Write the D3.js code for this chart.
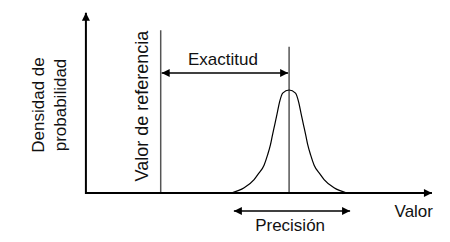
<!DOCTYPE html>
<html>
<head>
<meta charset="utf-8">
<script src="https://cdn.jsdelivr.net/npm/d3@7"></script>
<style>
  body { margin: 0; background: #fff; }
  text { font-family: "Liberation Sans", Arial, sans-serif; font-size: 17px; fill: #111; }
</style>
</head>
<body>
<svg width="450" height="242"></svg>
<script>
// valores (unidades arbitrarias)
const valorReferencia = 2;
const valorMedio = 6;
const ejeX = [-0.33, 10.45];
const ejeY = [0, 1.75];
const alturaReferencia = 1.58;
const alturaMedia = 1.42;
const rangoPrecision = [4.28, 7.9];

// puntos de la curva de densidad
const curvaX = [4.2, 4.6, 4.91, 5.03, 5.22, 5.33, 5.42, 5.48, 5.55, 5.62, 5.7, 5.8, 6,
                6.2, 6.3, 6.38, 6.45, 6.52, 6.58, 6.67, 6.78, 6.97, 7.09, 7.4, 7.8];
const curvaY = [0, 0.05, 0.13, 0.18, 0.27, 0.37, 0.47, 0.56, 0.66, 0.76, 0.88, 0.97, 1,
                0.97, 0.88, 0.76, 0.66, 0.56, 0.47, 0.37, 0.27, 0.18, 0.13, 0.05, 0];

const etiquetas = {
  ejeY: ["Densidad de", "probabilidad"],
  ejeX: "Valor",
  referencia: "Valor de referencia",
  exactitud: "Exactitud",
  precision: "Precisión"
};

const svg = d3.select("svg");

const x = d3.scaleLinear().domain([0, 10]).range([96.5, 417.5]);
const y = d3.scaleLinear().domain([0, 1]).range([193, 90]);

// flechas
const defs = svg.append("defs");
defs.append("marker")
  .attr("id", "punta")
  .attr("viewBox", "0 0 10 10")
  .attr("refX", 10).attr("refY", 5)
  .attr("markerWidth", 10).attr("markerHeight", 8)
  .attr("markerUnits", "userSpaceOnUse")
  .attr("orient", "auto-start-reverse")
  .append("path")
  .attr("d", "M0,0 L10,5 L0,10 Z")
  .attr("fill", "#000");

// líneas verticales (referencia y media)
svg.append("line")
  .attr("x1", x(valorReferencia)).attr("x2", x(valorReferencia))
  .attr("y1", y(0)).attr("y2", y(alturaReferencia))
  .attr("stroke", "#555").attr("stroke-width", 1.5);

svg.append("line")
  .attr("x1", x(valorMedio)).attr("x2", x(valorMedio))
  .attr("y1", y(0)).attr("y2", y(alturaMedia))
  .attr("stroke", "#555").attr("stroke-width", 1.5);

// curva
const linea = d3.line()
  .x((d, i) => x(curvaX[i]))
  .y(d => y(d))
  .curve(d3.curveMonotoneX);

svg.append("path")
  .datum(curvaY)
  .attr("d", linea)
  .attr("fill", "none")
  .attr("stroke", "#000")
  .attr("stroke-width", 1.2);

// ejes
svg.append("line")
  .attr("x1", x(ejeX[0])).attr("x2", x(ejeX[1]))
  .attr("y1", y(0)).attr("y2", y(0))
  .attr("stroke", "#000").attr("stroke-width", 2)
  .attr("marker-end", "url(#punta)");

svg.append("line")
  .attr("x1", x(ejeX[0])).attr("x2", x(ejeX[0]))
  .attr("y1", y(0) + 1).attr("y2", y(ejeY[1]))
  .attr("stroke", "#000").attr("stroke-width", 2)
  .attr("marker-end", "url(#punta)");

// exactitud
const yExact = 73;
svg.append("line")
  .attr("x1", x(valorReferencia) + 1).attr("x2", x(valorMedio) - 1)
  .attr("y1", yExact).attr("y2", yExact)
  .attr("stroke", "#000").attr("stroke-width", 1.5)
  .attr("marker-start", "url(#punta)")
  .attr("marker-end", "url(#punta)");

svg.append("text")
  .attr("x", x((valorReferencia + valorMedio) / 2) - 2)
  .attr("y", 65)
  .attr("text-anchor", "middle")
  .text(etiquetas.exactitud);

// precisión
const yPrec = 211;
svg.append("line")
  .attr("x1", x(rangoPrecision[0])).attr("x2", x(rangoPrecision[1]))
  .attr("y1", yPrec).attr("y2", yPrec)
  .attr("stroke", "#000").attr("stroke-width", 1.5)
  .attr("marker-start", "url(#punta)")
  .attr("marker-end", "url(#punta)");

svg.append("text")
  .attr("x", x(valorMedio) + 1)
  .attr("y", 231)
  .attr("text-anchor", "middle")
  .text(etiquetas.precision);

// etiqueta eje x
svg.append("text")
  .attr("x", 433)
  .attr("y", 217)
  .attr("text-anchor", "end")
  .text(etiquetas.ejeX);

// etiqueta valor de referencia
svg.append("text")
  .attr("transform", `translate(${x(valorReferencia) - 12.5},106) rotate(-90)`)
  .attr("text-anchor", "middle")
  .style("font-size", "18px")
  .text(etiquetas.referencia);

// etiqueta eje y
etiquetas.ejeY.forEach((t, i) => {
  svg.append("text")
    .attr("transform", `translate(${43.5 + i * 22.5},105) rotate(-90)`)
    .attr("text-anchor", "middle")
    .text(t);
});
</script>
</body>
</html>
